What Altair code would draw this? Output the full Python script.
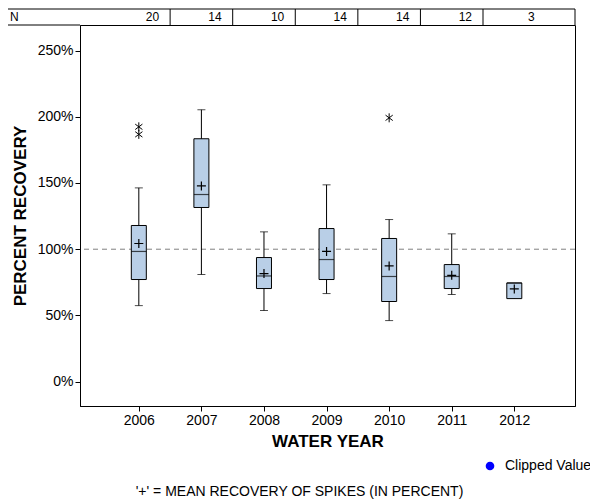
import altair as alt
import pandas as pd

# ---- data ----
years = [2006, 2007, 2008, 2009, 2010, 2011, 2012]
n_counts = [20, 14, 10, 14, 14, 12, 3]
whisker_low = [57.4, 80.9, 53.7, 66.5, 46.1, 65.8, 62.7]
q1 = [77.1, 131.5, 70.3, 77.1, 60.5, 70.3, 62.7]
median = [98.3, 141.3, 79.8, 92.2, 79.4, 79.4, 74.5]
q3 = [117.9, 183.4, 93.7, 115.6, 108.1, 88.4, 74.5]
whisker_high = [146.3, 205.3, 113.1, 148.6, 122.4, 111.6, 74.5]
means = [104.3, 147.8, 81.6, 98.3, 87.4, 80.3, 70.0]
outlier_years = [2006, 2006, 2010]
outlier_values = [192.4, 186.7, 199.2]
reference_value = [100]
y_ticks = [0, 50, 100, 150, 200, 250]

X_DOMAIN = [2005.14, 2012.89]
Y_DOMAIN = [-18.4, 269.3]
FONT = "Liberation Sans"
BOX_FILL = "#b9cfe7"

box = pd.DataFrame({
    "year": years, "lo": whisker_low, "q1": q1, "med": median,
    "q3": q3, "hi": whisker_high, "mean": means, "n": n_counts,
})
box["cell_end"] = [min(y + 0.5, X_DOMAIN[1]) for y in years]
caps = pd.concat([
    box[box["lo"] < box["q1"]][["year", "lo"]].rename(columns={"lo": "v"}),
    box[box["hi"] > box["q3"]][["year", "hi"]].rename(columns={"hi": "v"}),
])
outliers = pd.DataFrame({"year": outlier_years, "v": outlier_values})
ref = pd.DataFrame({"v": reference_value})
one = pd.DataFrame({"a": [0]})

xs = alt.Scale(domain=X_DOMAIN, nice=False, zero=False)
ys = alt.Scale(domain=Y_DOMAIN, nice=False, zero=False)

x_enc = alt.X("year:Q", scale=xs, axis=alt.Axis(
    values=years, format="d", title="WATER YEAR", grid=False,
    tickSize=5, labelPadding=2, titlePadding=6,
    labelFont=FONT, labelFontSize=14, labelColor="black",
    titleFont=FONT, titleFontSize=17, titleFontWeight="bold", titleColor="black",
    domainColor="black", tickColor="black"))
y_axis = alt.Axis(values=y_ticks, labelExpr="datum.value + '%'",
                  title="PERCENT RECOVERY", grid=False, tickSize=5,
                  labelPadding=2, titlePadding=8,
                  labelFont=FONT, labelFontSize=14, labelColor="black",
                  titleFont=FONT, titleFontSize=17, titleFontWeight="bold",
                  titleColor="black", domainColor="black", tickColor="black")

refline = alt.Chart(ref).mark_rule(color="#808080", strokeDash=[5, 4], strokeWidth=1).encode(
    y=alt.Y("v:Q", scale=ys, axis=y_axis))

whisk = alt.Chart(box).mark_rule(color="black", strokeWidth=1).encode(
    x=x_enc, y=alt.Y("lo:Q", scale=ys), y2="hi:Q")

cap = alt.Chart(caps).mark_tick(orient="horizontal", size=8, thickness=1, color="black").encode(
    x=alt.X("year:Q", scale=xs), y=alt.Y("v:Q", scale=ys))

bars = alt.Chart(box).mark_bar(size=15, fill=BOX_FILL, stroke="black", strokeWidth=1).encode(
    x=alt.X("year:Q", scale=xs), y=alt.Y("q1:Q", scale=ys), y2="q3:Q")

med = alt.Chart(box).mark_tick(orient="horizontal", size=15, thickness=1.2, color="black").encode(
    x=alt.X("year:Q", scale=xs), y=alt.Y("med:Q", scale=ys))

mean_pt = alt.Chart(box).mark_point(
    shape="M-1,0L1,0M0,-1L0,1", filled=False, stroke="black", strokeWidth=1.2,
    size=81, opacity=1).encode(
    x=alt.X("year:Q", scale=xs), y=alt.Y("mean:Q", scale=ys))

outl = alt.Chart(outliers).mark_point(
    shape="M0,-1L0,1M-0.8,-0.6L0.8,0.6M-0.8,0.6L0.8,-0.6", filled=False,
    stroke="black", strokeWidth=1, size=81, opacity=1).encode(
    x=alt.X("year:Q", scale=xs), y=alt.Y("v:Q", scale=ys))

# ---- N table above the plot ----
tbl_top = -16
tbl_mid = -8
tbl_left = -76
plot_w = 495
plot_h = 381

tbl_lines = [
    alt.Chart(one).mark_rule(color="black", strokeWidth=1).encode(
        x=alt.value(tbl_left), x2=alt.value(plot_w), y=alt.value(tbl_top)),
    alt.Chart(one).mark_rule(color="black", strokeWidth=1).encode(
        x=alt.value(tbl_left), x2=alt.value(0), y=alt.value(0)),
    alt.Chart(one).mark_rule(color="black", strokeWidth=1).encode(
        x=alt.value(tbl_left), y=alt.value(tbl_top), y2=alt.value(0)),
    alt.Chart(one).mark_rule(color="black", strokeWidth=1).encode(
        x=alt.value(plot_w), y=alt.value(tbl_top), y2=alt.value(0)),
]
dividers = alt.Chart(box[box["year"] < max(years)]).mark_rule(color="black", strokeWidth=1).encode(
    x=alt.X("cell_end:Q", scale=xs), y=alt.value(tbl_top), y2=alt.value(0))
n_text = alt.Chart(box).mark_text(align="right", baseline="middle", dx=-11,
                                  font=FONT, fontSize=12, color="black").encode(
    x=alt.X("cell_end:Q", scale=xs), y=alt.value(tbl_mid), text="n:Q")
n_label = alt.Chart(one).mark_text(text="N", align="left", baseline="middle",
                                   font=FONT, fontSize=12, color="black").encode(
    x=alt.value(tbl_left + 6), y=alt.value(tbl_mid))

# ---- legend and footnote ----
leg_dot = alt.Chart(one).mark_point(shape="circle", filled=True, color="#0000ff",
                                    size=75, opacity=1).encode(
    x=alt.value(410), y=alt.value(441))
leg_txt = alt.Chart(one).mark_text(text="Clipped Value", align="left", baseline="middle",
                                   font=FONT, fontSize=14, color="black").encode(
    x=alt.value(425), y=alt.value(441))
foot = alt.Chart(one).mark_text(text="'+' = MEAN RECOVERY OF SPIKES (IN PERCENT)",
                                align="center", baseline="middle",
                                font=FONT, fontSize=14, color="black").encode(
    x=alt.value(219.5), y=alt.value(467))

chart = alt.layer(
    refline, whisk, cap, bars, med, mean_pt, outl,
    *tbl_lines, dividers, n_text, n_label, leg_dot, leg_txt, foot,
).properties(
    width=plot_w, height=plot_h,
    autosize=alt.AutoSizeParams(type="none"),
    padding={"left": 72, "top": 17, "right": 15, "bottom": 93},
    background="white",
).configure_view(
    stroke="black", strokeWidth=1
)

chart.save("out.html", embed_options={"renderer": "svg", "actions": False})
